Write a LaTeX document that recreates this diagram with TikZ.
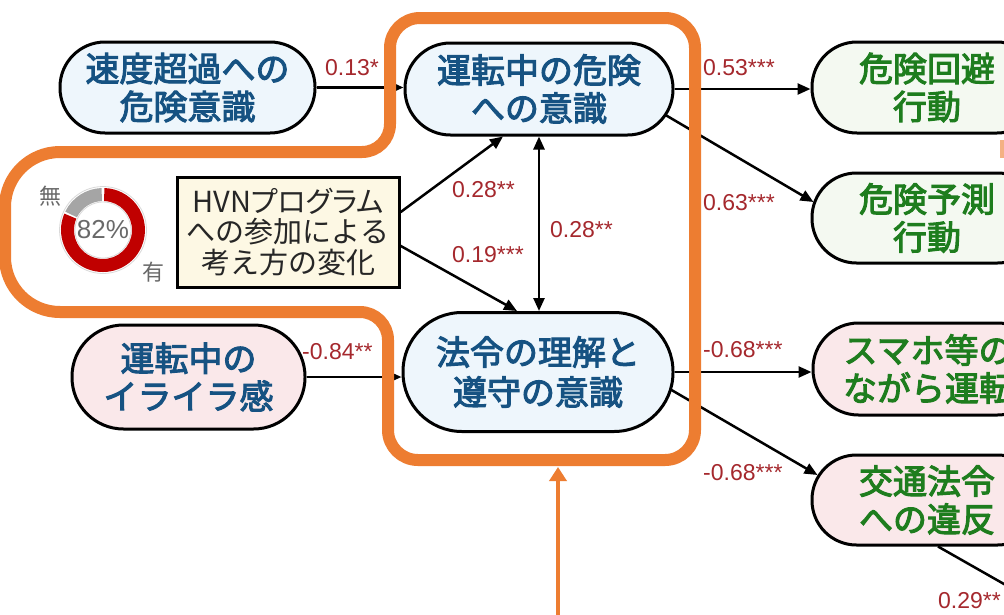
\documentclass[tikz,border=0pt]{standalone}
\usepackage{fontspec}
\setmainfont{Liberation Sans}
\newfontfamily\jp{Noto Sans CJK JP}
\newfontfamily\jpm[FakeBold=3]{Noto Sans CJK JP}
\newfontfamily\jpp[RawFeature=+palt]{Noto Sans CJK JP}
\usetikzlibrary{arrows.meta,calc}

\definecolor{bluetxt}{RGB}{22,82,130}
\definecolor{greentxt}{RGB}{30,125,30}
\definecolor{bluefill}{RGB}{238,246,252}
\definecolor{greenfill}{RGB}{244,249,241}
\definecolor{pinkfill}{RGB}{250,232,234}
\definecolor{creamfill}{RGB}{253,248,228}
\definecolor{labred}{RGB}{165,40,45}
\definecolor{orng}{RGB}{237,125,49}
\definecolor{ringred}{RGB}{192,0,0}
\definecolor{ringgray}{RGB}{165,165,165}
\definecolor{txtgray}{RGB}{105,105,105}

\tikzset{
  stadium/.style args={#1/#2}{draw=black, line width=3pt, inner sep=0pt, align=center,
    minimum width=#1pt, minimum height=#2pt, rounded corners={(#2/2-0.5)*1pt},
    font=\jpm\fontsize{34}{38}\selectfont},
  bluenode/.style={fill=bluefill, text=bluetxt},
  greennode/.style={fill=greenfill, text=greentxt},
  pinknode/.style={fill=pinkfill, text=bluetxt},
  pinkgreen/.style={fill=pinkfill, text=greentxt},
  hvnbox/.style={draw=black, line width=3pt, fill=creamfill, inner sep=0pt, align=center,
    minimum width=222pt, minimum height=110pt, text=black!85,
    font=\jp\fontsize{29}{30.5}\selectfont},
  conn/.style={draw=black, line width=2.5pt, -{Triangle[length=13pt,width=11pt]}},
  lab/.style={text=labred, font=\fontsize{23}{23}\selectfont, anchor=west, inner sep=0pt},
  ringlab/.style={text=txtgray, font=\jp\fontsize{22}{22}\selectfont, inner sep=0pt},
  outline/.style={draw=orng, line width=12pt, line join=round},
}

\begin{document}
\begin{tikzpicture}[x=1pt,y=1pt]
\useasboundingbox (0,0) rectangle (1004,-614);
\clip (0,0) rectangle (1004,-614);
\fill[white] (0,0) rectangle (1004,-614);

% nodes
\node[stadium=255/91, bluenode] (A) at (187.5,-87.5) {速度超過への\\危険意識};
\node[stadium=268/92, bluenode] (B) at (539,-89) {運転中の危険\\への意識};
\node[stadium=270/119, bluenode, font=\jpm\fontsize{34}{40}\selectfont] (C) at (538,-372) {法令の理解と\\遵守の意識};
\node[stadium=233/104, pinknode] (D) at (188.5,-377) {運転中の\\イライラ感};
\node[stadium=230/91, greennode] (E) at (927,-87.5) {危険回避\\行動};
\node[stadium=230/90, greennode] (F) at (927,-218) {危険予測\\行動};
\node[stadium=230/92, pinkgreen] (G) at (928,-369) {スマホ等の\\ながら運転};
\node[stadium=230/90, pinkgreen] (H) at (927,-500) {交通法令\\への違反};
\node[hvnbox] (hvn) at (288,-232) {{\jpp HVNプログラム}\\への参加による\\考え方の変化};

% donut
\coordinate (dc) at (103,-230);
\draw[black!15, line width=0.8pt] (dc) circle[radius=43.5];
\draw[black!15, line width=0.8pt] (dc) circle[radius=28];
\fill[ringgray] ($(dc)+(92:42)$) arc[start angle=92, end angle=154, radius=42]
  -- ($(dc)+(154:29)$) arc[start angle=154, end angle=92, radius=29] -- cycle;
\fill[ringred] ($(dc)+(157:42)$) arc[start angle=157, end angle=448, radius=42]
  -- ($(dc)+(448:29)$) arc[start angle=448, end angle=157, radius=29] -- cycle;
\node[text=txtgray, font=\fontsize{26}{26}\selectfont, inner sep=0pt] (pct) at (dc) {82\%};
\node[ringlab] (nashi) at (50,-196) {無};
\node[ringlab] (ari) at (153,-272) {有};

% connectors
\draw[conn] (A.east) -- (A.east -| B.west);
\draw[conn] (hvn.10) -- ($(B.south)+(-36,0)$);
\draw[conn] (hvn.-7) -- ($(C.north)+(-21,0)$);
\draw[draw=black, line width=2.5pt, {Triangle[length=13pt,width=11pt]}-{Triangle[length=13pt,width=11pt]}] (B.south) -- (B.south |- C.north);
\draw[conn] (D.east) -- (D.east -| C.west);
\draw[conn] (B.east) -- (B.east -| E.west);
\draw[conn] ($(B.east)+(-9,-26)$) -- ($(F.west)+(3,16)$);
\draw[conn] (C.east) -- (C.east -| G.west);
\draw[conn] ($(C.east)+(-3,-18)$) -- ($(H.west)+(7,25)$);
\coordinate (hout) at (1062,-617);
\draw[black, line width=2.5pt] ($(H.south)+(11,0)$) -- (hout);

% labels
\node[lab] (l1) at (325,-68) {0.13*};
\node[lab] (l2) at (452,-190) {0.28**};
\node[lab] (l3) at (452,-255) {0.19***};
\node[lab] (l4) at (550,-230) {0.28**};
\node[lab] (l5) at (302,-352) {-0.84**};
\node[lab] (l6) at (703,-68) {0.53***};
\node[lab] (l7) at (703,-203) {0.63***};
\node[lab] (l8) at (703,-350) {-0.68***};
\node[lab] (l9) at (703,-473) {-0.68***};
\node[lab] (l10) at (938,-601) {0.29**};

% orange outline
\draw[outline] (420,-18) -- (665,-18) arc[start angle=90, end angle=0, radius=30]
  -- (695,-430) arc[start angle=0, end angle=-90, radius=30]
  -- (418,-460) arc[start angle=270, end angle=180, radius=30]
  -- (388,-340) arc[start angle=0, end angle=90, radius=28]
  -- (60,-312) arc[start angle=270, end angle=180, radius=55]
  -- (5,-207) arc[start angle=180, end angle=90, radius=55]
  -- (362,-152) arc[start angle=270, end angle=360, radius=28]
  -- (390,-48) arc[start angle=180, end angle=90, radius=30] -- cycle;
\draw[orng!60, line width=8pt] (1004,-140) -- (1004,-158);

% orange arrow
\coordinate (obot) at (558,-625);
\coordinate (otop) at (558,-467);
\draw[orng, line width=4pt, -{Triangle[length=14pt,width=17pt]}] (obot) -- (otop);
\end{tikzpicture}
\end{document}
